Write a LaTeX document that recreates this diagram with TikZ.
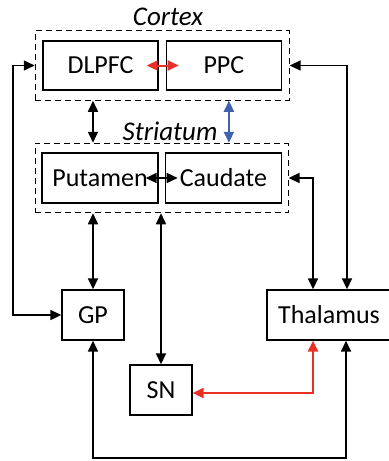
\documentclass[tikz,border=0pt]{standalone}
\usepackage{fontspec}
\setmainfont{Carlito}
\usetikzlibrary{arrows.meta, positioning, fit, calc}
\definecolor{linkred}{RGB}{232,48,36}
\definecolor{linkblue}{RGB}{64,96,176}

\begin{document}
\begin{tikzpicture}[
				x=0.5pt, y=-0.5pt,
				every node/.style={font=\fontsize{13}{15}\selectfont},
				region/.style={rectangle, draw, line width=0.7pt, minimum width=57.5pt, minimum height=24.5pt, align=center},
				nucleus/.style={rectangle, draw, line width=0.7pt, minimum width=31pt, minimum height=25pt, align=center},
				group/.style={rectangle, draw, densely dashed, line width=0.55pt},
				grouplabel/.style={font=\fontsize{13.5}{15}\selectfont\itshape},
				biarrow/.style={line width=0.8pt, {Triangle[length=5.5pt,width=5pt]}-{Triangle[length=5.5pt,width=5pt]}}
				]
				\useasboundingbox (0,0) rectangle (388,461);
				% Nodes
				\node (dlpfc) [region] at (100.5,65.5) {DLPFC};
				\node (ppc) [region, right=3.5pt of dlpfc] {PPC};
				\node (cortex) [group, inner xsep=3.5pt, inner ysep=4.75pt, fit=(dlpfc) (ppc)] {};
				\node (cortexlbl) [grouplabel] at (168,17) {Cortex};
				\node (putamen) [region, minimum width=58pt, minimum height=25pt] at (100,178) {Putamen};
				\node (caudate) [region, minimum width=58pt, minimum height=25pt, right=3pt of putamen] {Caudate};
				\node (striatum) [group, inner xsep=3pt, inner ysep=4.5pt, fit=(putamen) (caudate)] {};
				\node (striatumlbl) [grouplabel] at (170,131) {Striatum};
				\node (gp) [nucleus] at (93,315) {GP};
				\node (thalamus) [nucleus, minimum width=62pt] at (329,315) {Thalamus};
				\node (sn) [nucleus] at (161,390) {SN};
				
				% Arrows
				\draw [biarrow, linkred, line width=1pt] ([xshift=-6pt]dlpfc.east) -- ([xshift=6.5pt]ppc.west);
				\draw [biarrow] ([xshift=-6.5pt]putamen.east) -- ([xshift=6.5pt]caudate.west);
				\draw [biarrow] (gp |- cortex.south) -- (gp |- striatum.north);
				\draw [biarrow, linkblue, line width=1pt] ($(ppc.center |- cortex.south)+(5,0)$) -- ($(ppc.center |- striatum.north)+(5,0)$);
				\draw [biarrow] (cortex.west |- dlpfc.center) -- ++(-22,0) |- (gp.west);
				\draw [biarrow] (cortex.east |- ppc.center) -| ($(thalamus.north)+(18,0)$);
				\draw [biarrow] (striatum.east |- caudate.center) -| ($(thalamus.north)+(-16,0)$);
				\draw [biarrow] (gp |- striatum.south) -- (gp.north);
				\draw [biarrow] (sn |- striatum.south) -- (sn.north);
				\draw [biarrow, linkred, line width=1.2pt] ($(thalamus.south)+(-16,0)$) |- ([yshift=-1.5pt]sn.east);
				\draw [biarrow] (gp.south) -- ++(0,117) -| ($(thalamus.south)+(17,0)$);
			\end{tikzpicture}
\end{document}
